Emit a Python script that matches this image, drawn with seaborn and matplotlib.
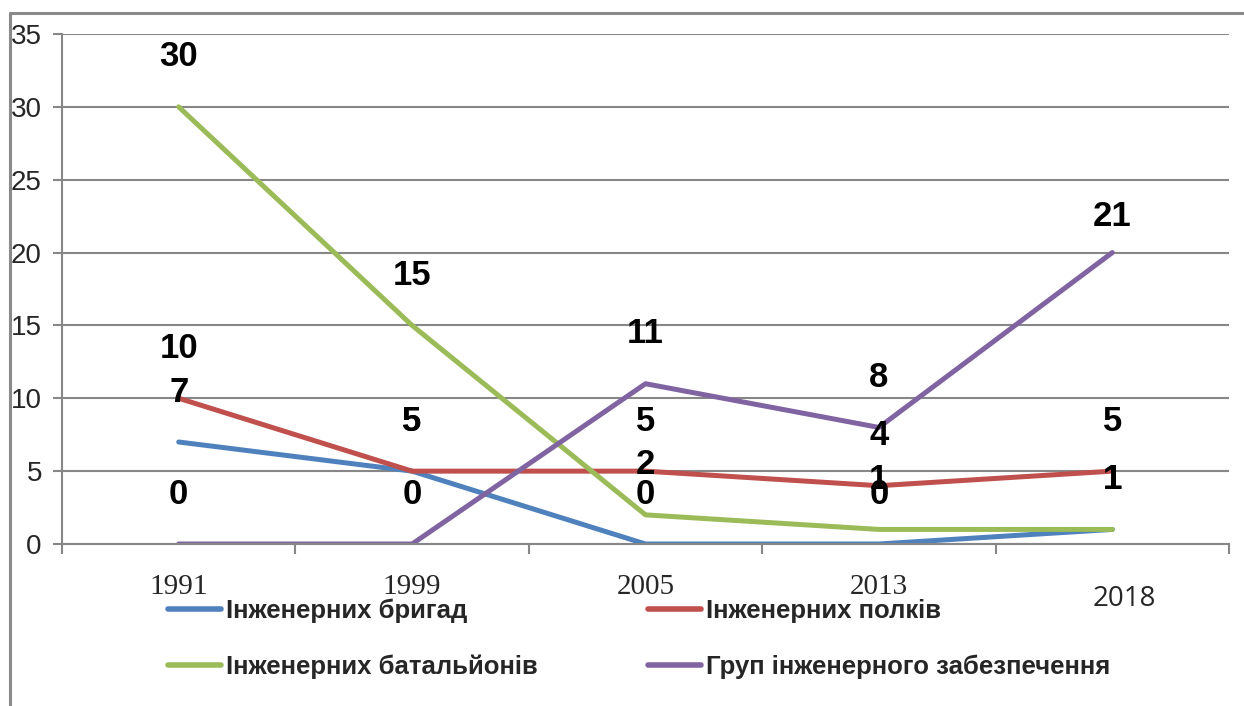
import matplotlib
matplotlib.use('Agg')
import matplotlib.pyplot as plt
from matplotlib.lines import Line2D
import pandas as pd
import seaborn as sns

# data
years = ['1991', '1999', '2005', '2013', '2018']
series_names = ['Інженерних бригад', 'Інженерних полків',
                'Інженерних батальйонів', 'Груп інженерного забезпечення']
brigades = [7, 5, 0, 0, 1]
regiments = [10, 5, 5, 4, 5]
battalions = [30, 15, 2, 1, 1]
support_groups = [0, 0, 11, 8, 20]
# the printed data labels (last purple label reads 21 in the source)
brigades_labels = [7, 5, 0, 0, 1]
regiments_labels = [10, 5, 5, 4, 5]
battalions_labels = [30, 15, 2, 1, 1]
support_groups_labels = [0, 0, 11, 8, 21]

colors = ['#4F81BD', '#C0504D', '#9BBB59', '#8064A2']
GRID = '#878787'

values = [brigades, regiments, battalions, support_groups]
labels = [brigades_labels, regiments_labels, battalions_labels, support_groups_labels]

df = pd.DataFrame([
    {'year': y, 'series': name, 'value': v}
    for name, vals in zip(series_names, values)
    for y, v in zip(years, vals)
])

sns.set_theme(style='white')
plt.rcParams['font.family'] = ['Liberation Sans', 'DejaVu Sans']

fig = plt.figure(figsize=(12.44, 7.06), dpi=100)
ax = fig.add_axes([62 / 1244, 1 - 544 / 706, (1229 - 62) / 1244, (544 - 34) / 706])

sns.lineplot(data=df, x='year', y='value', hue='series', hue_order=series_names,
             palette=colors, linewidth=3.6, sort=False, legend=False, ax=ax)

# data labels above each point
for vals, labs in zip(values, labels):
    for i, (v, lab) in enumerate(zip(vals, labs)):
        dy = 36
        if lab != v:
            dy = 26
        ax.annotate(str(lab), (i, v), xytext=(0, dy), textcoords='offset points',
                    ha='center', va='center', fontsize=25, fontweight='bold',
                    color='black')

ax.set_xlim(-0.5, len(years) - 0.5)
ax.set_ylim(0, 35)
ax.set_yticks(range(0, 36, 5))
ax.yaxis.grid(True, color=GRID, linewidth=1.5)
ax.xaxis.grid(False)
ax.set_xlabel('')
ax.set_ylabel('')

for side in ['top', 'right']:
    ax.spines[side].set_visible(False)
for side in ['left', 'bottom']:
    ax.spines[side].set_color(GRID)
    ax.spines[side].set_linewidth(1.5)

ax.tick_params(axis='y', which='major', length=6.5, width=1.5, color=GRID,
               labelsize=20, pad=8, left=True)

# category boundaries as tick marks, labels drawn by hand
ax.set_xticks([i - 0.5 for i in range(len(years) + 1)])
ax.set_xticklabels([])
ax.tick_params(axis='x', which='major', length=7, width=1.5, color=GRID, bottom=True)

for i, y in enumerate(years):
    if i < len(years) - 1:
        ax.text(i, -0.085, y, transform=ax.get_xaxis_transform(), ha='center', va='center',
                fontsize=21, family=['Liberation Serif', 'DejaVu Serif'])
    else:
        ax.text(i + 0.05, -0.107, y, transform=ax.get_xaxis_transform(), ha='center', va='center',
                fontsize=20, family=['Open Sans', 'DejaVu Sans'])

# legend, Excel order: row-wise -> reorder for column-major fill
handles = [Line2D([], [], color=c, linewidth=4, solid_capstyle='round') for c in colors]
order = [0, 2, 1, 3]
leg = fig.legend([handles[i] for i in order], [series_names[i] for i in order],
                 loc='upper left', bbox_to_anchor=(168 / 1244, 1 - 599 / 706),
                 ncol=2, frameon=False, borderpad=0, borderaxespad=0,
                 handlelength=2.05, handletextpad=0.2, columnspacing=4.3,
                 labelspacing=1.2,
                 prop={'family': ['Liberation Sans', 'DejaVu Sans'],
                       'weight': 'bold', 'size': 18.5})

# outer chart frame (top and left edges visible)
fx = 10 / 1244
fy = 1 - 13 / 706
fig.add_artist(Line2D([fx, 1], [fy, fy], transform=fig.transFigure, color='#8a8a8a', linewidth=2.2))
fig.add_artist(Line2D([fx, fx], [0, fy], transform=fig.transFigure, color='#8a8a8a', linewidth=2.2))

plt.savefig('out.png', dpi=100)
